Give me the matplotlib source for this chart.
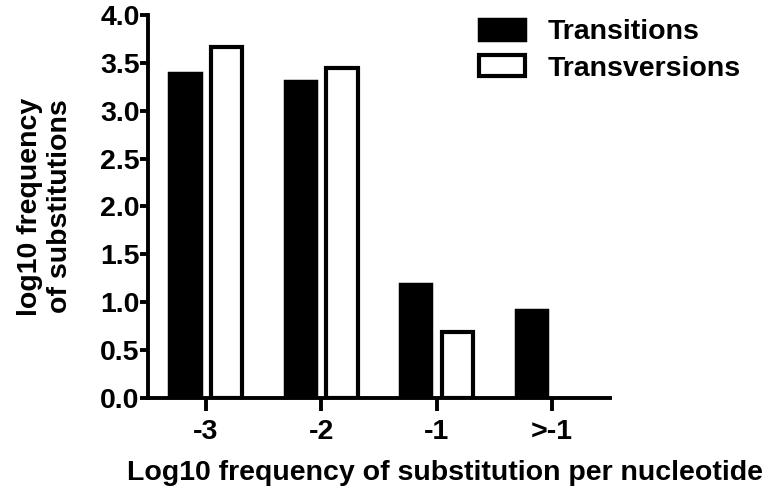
import matplotlib.pyplot as plt
import numpy as np

plt.rcParams['font.family'] = ['Liberation Sans', 'DejaVu Sans']
plt.rcParams['font.weight'] = 'bold'

categories = ["-3", "-2", "-1", ">-1"]
transitions = [3.39, 3.31, 1.19, 0.92]
transversions = [3.66, 3.45, 0.69, 0.0]

fig = plt.figure(figsize=(7.71, 4.94), dpi=100)
ax = fig.add_axes([0.192, 0.194, 0.599, 0.776])

x = np.arange(len(categories))
width = 0.27
ax.bar(x - 0.18, transitions, width, color="black", edgecolor="black",
       linewidth=2.5, label="Transitions")
# empty bars (value 0) get no outline, as in the original
edge_w = [3 if v > 0 else 0 for v in transversions]
ax.bar(x + 0.18, transversions, width, color="white", edgecolor="black",
       linewidth=edge_w, label="Transversions")

ax.set_xlim(-0.5, 3.5)
ax.set_ylim(0, 4.0)
yt = np.arange(0, 4.01, 0.5)
ax.set_yticks(yt)
ax.set_yticklabels([f"{v:.1f}" for v in yt])
ax.set_xticks(x)
ax.set_xticklabels(categories)

for s in ["top", "right"]:
    ax.spines[s].set_visible(False)
for s in ["left", "bottom"]:
    ax.spines[s].set_linewidth(2.8)
ax.tick_params(axis="both", labelsize=20.5, width=2.8)
ax.tick_params(axis="y", length=6, pad=0)
ax.tick_params(axis="x", length=9, pad=6)

ax.set_xlabel("Log10 frequency of substitution per nucleotide",
              fontsize=20.5, fontweight="bold")
ax.xaxis.set_label_coords(0.643, -0.162)
ax.set_ylabel("log10 frequency\nof substitutions", fontsize=20.5,
              fontweight="bold", linespacing=1.2)
ax.yaxis.set_label_coords(-0.163, 0.5)

leg = fig.legend(loc="upper left", bbox_to_anchor=(479 / 771, 1 - 19 / 494),
                 frameon=False, fontsize=20.5, handlelength=1.6,
                 handleheight=0.75, handletextpad=0.8, borderpad=0,
                 borderaxespad=0, labelspacing=0.35)
leg.get_patches()[1].set_linewidth(3)

fig.savefig("out.png", dpi=100)
